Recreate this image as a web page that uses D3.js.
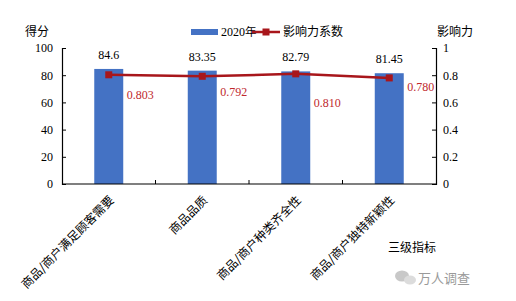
<!DOCTYPE html>
<head>
  <meta charset="utf-8">
  <script src="https://d3js.org/d3.v7.min.js"></script>
  <style>
  *{ margin:0; padding:0; }
  body{ background:#fff; }
  svg text{ font-size: 12px; fill:#000; }
  .num{ font-family: "Liberation Serif", "Times New Roman", serif; }
  .cn{ font-family: "Noto Sans CJK SC", sans-serif; }
  </style>
</head>
<body>
<svg id="chart" width="516" height="301"></svg>
<script>
  // data
  let categories = ['商品/商户满足顾客需要', '商品品质', '商品/商户种类齐全性', '商品/商户独特新颖性'];
  let scores = [84.6, 83.35, 82.79, 81.45];
  let influence = [0.803, 0.792, 0.810, 0.780];
  let leftTicks = [0, 20, 40, 60, 80, 100];
  let rightTicks = [0, 0.2, 0.4, 0.6, 0.8, 1];

  // hand placed label nudges (below each marker)
  let infLabelDy = [20, 16, 29, 9];

  let svg = d3.select('#chart');
  let pLeft = 62, pRight = 436, pTop = 48, pBottom = 184;
  let blue = '#4472C4', red = '#A8161B';
  let serif = '"Liberation Serif", "Times New Roman", serif';

  let x = d3.scaleBand().domain(categories).range([pLeft, pRight]).paddingInner(0.69).paddingOuter(0.345);
  let yL = d3.scaleLinear().domain([0, 100]).range([pBottom, pTop]);
  let yR = d3.scaleLinear().domain([0, 1]).range([pBottom, pTop]);
  let step = (pRight - pLeft) / categories.length;

  //axes
  let axL = svg.append('g').attr('transform', `translate(${pLeft},0)`)
    .call(d3.axisRight(yL).tickValues(leftTicks).tickSize(4).tickFormat(d3.format('d')));
  axL.selectAll('text').attr('x', -9).attr('text-anchor', 'end');
  let axR = svg.append('g').attr('transform', `translate(${pRight},0)`)
    .call(d3.axisLeft(yR).tickValues(rightTicks).tickSize(4).tickFormat(d => d));
  axR.selectAll('text').attr('x', 7).attr('text-anchor', 'start');
  [axL, axR].forEach(g => {
    g.attr('font-family', null).attr('font-size', null);
    g.select('.domain').attr('stroke', '#000').attr('stroke-width', 1.2);
    g.selectAll('.tick line').attr('stroke', '#000');
    g.selectAll('text').attr('fill', '#000').style('font-family', serif).style('font-size', '12px');
  });

  //bars
  svg.selectAll('rect.bar').data(scores).enter().append('rect')
    .attr('x', (d, i) => x(categories[i]))
    .attr('width', x.bandwidth())
    .attr('y', d => yL(d))
    .attr('height', d => pBottom - yL(d))
    .attr('fill', blue);

  //bottom axis line + boundary ticks
  svg.append('line').attr('x1', pLeft).attr('x2', pRight).attr('y1', pBottom).attr('y2', pBottom)
    .attr('stroke', '#000').attr('stroke-width', 1.2);
  svg.selectAll('line.bt').data(d3.range(1, categories.length)).enter().append('line')
    .attr('x1', i => pLeft + i * step).attr('x2', i => pLeft + i * step)
    .attr('y1', pBottom).attr('y2', pBottom - 4).attr('stroke', '#000');

  //bar labels
  svg.selectAll('text.sv').data(scores).enter().append('text')
    .attr('class', 'num')
    .attr('x', (d, i) => x(categories[i]) + x.bandwidth() / 2)
    .attr('y', d => yL(d) - 10)
    .attr('text-anchor', 'middle')
    .style('font-family', serif)
    .text(d => d);

  //line
  let cx = (d, i) => x(categories[i]) + x.bandwidth() / 2;
  svg.append('path').datum(influence)
    .attr('d', d3.line().x(cx).y(d => yR(d)))
    .attr('fill', 'none').attr('stroke', red).attr('stroke-width', 2.5);
  svg.selectAll('rect.mk').data(influence).enter().append('rect')
    .attr('x', (d, i) => cx(d, i) - 3.5).attr('y', d => yR(d) - 3.5)
    .attr('width', 7).attr('height', 7).attr('fill', red);
  svg.selectAll('text.iv').data(influence).enter().append('text')
    .attr('class', 'num')
    .attr('x', (d, i) => cx(d, i) + 18)
    .attr('y', (d, i) => yR(d) + infLabelDy[i] + 4)
    .style('fill', '#C0282D')
    .style('font-family', serif)
    .text(d => d3.format('.3f')(d));

  //category labels
  svg.selectAll('text.cat').data(categories).enter().append('text')
    .attr('class', 'cn')
    .attr('text-anchor', 'end')
    .attr('transform', d => `translate(${x(d) + x.bandwidth() / 2 + 6},201) rotate(-45)`)
    .style('font-size', '12px')
    .text(d => d);

  //titles
  svg.append('text').attr('class', 'cn').attr('x', 25).attr('y', 36).text('得分');
  svg.append('text').attr('class', 'cn').attr('x', 437).attr('y', 36).text('影响力');
  svg.append('text').attr('class', 'cn').attr('x', 388).attr('y', 252).text('三级指标');

  //legend
  svg.append('rect').attr('x', 191).attr('y', 29).attr('width', 27).attr('height', 6).attr('fill', blue);
  svg.append('text').attr('class', 'num').attr('x', 221).attr('y', 36).style('font-family', serif).text('2020');
  svg.append('text').attr('class', 'cn').attr('x', 245).attr('y', 36).style('font-size', '11.5px').text('年');
  svg.append('line').attr('x1', 252).attr('x2', 280).attr('y1', 32).attr('y2', 32).attr('stroke', red).attr('stroke-width', 2.5);
  svg.append('rect').attr('x', 262.5).attr('y', 28.5).attr('width', 7).attr('height', 7).attr('fill', red);
  svg.append('text').attr('class', 'cn').attr('x', 283).attr('y', 36).text('影响力系数');

  //watermark
  let wm = svg.append('g').attr('fill', '#c8c8c8');
  wm.append('ellipse').attr('cx', 402).attr('cy', 276).attr('rx', 7).attr('ry', 5.5);
  wm.append('ellipse').attr('cx', 410).attr('cy', 280).attr('rx', 6).attr('ry', 4.5).attr('fill', '#dcdcdc');
  svg.append('text').attr('class', 'cn').attr('x', 418).attr('y', 283).style('font-size', '13px')
    .style('fill', '#9a9a9a').text('万人调查');
</script>
</body>
